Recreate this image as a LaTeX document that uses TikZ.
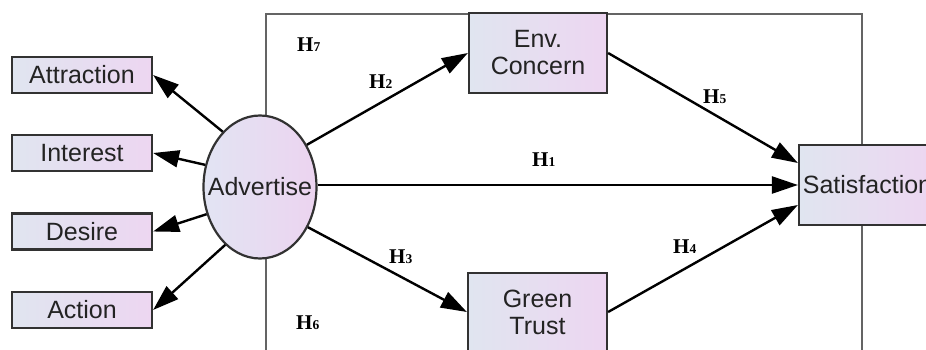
\documentclass[tikz,border=0pt]{standalone}
\usepackage{fontspec}
\setmainfont{Liberation Serif}
\newfontfamily\arialfont{Liberation Sans}
\usetikzlibrary{arrows.meta,shapes.geometric}

\definecolor{boxleft}{RGB}{224,229,240}
\definecolor{boxright}{RGB}{237,214,241}
\definecolor{ellleft}{RGB}{226,228,243}
\definecolor{ellright}{RGB}{236,212,240}
\definecolor{edgegray}{RGB}{50,50,50}
\definecolor{framegray}{RGB}{100,100,100}
\definecolor{txt}{RGB}{35,35,35}

\tikzset{
  varbox/.style={rectangle, draw=edgegray, line width=2.2pt,
    left color=boxleft, right color=boxright, text=txt,
    font=\arialfont\fontsize{25}{27}\selectfont, align=center, inner sep=0pt},
  latent/.style={ellipse, draw=edgegray, line width=2.2pt,
    left color=ellleft, right color=ellright, text=txt,
    font=\arialfont\fontsize{25}{27}\selectfont, inner xsep=-14pt, inner ysep=0pt,
    minimum width=113pt, minimum height=143pt},
  path/.style={draw=black, line width=2.4pt,
    -{Triangle[length=26pt,width=17pt]}},
  hlab/.style={font=\bfseries\fontsize{21}{21}\selectfont, inner sep=0pt, anchor=base west},
}
\newcommand{\hyp}[1]{H{\fontsize{13.5}{13.5}\selectfont #1}}

\begin{document}
\begin{tikzpicture}[x=1pt,y=-1pt]
  \useasboundingbox (0,0) rectangle (926,350);
  \clip (0,0) rectangle (926,350);

  % structural model frame
  \draw[framegray, line width=1.3pt] (266,360) -- (266,14) -- (862,14) -- (862,360);

  % measurement indicators
  \node[varbox, minimum width=140pt, minimum height=36pt] (attr) at (82,75) {Attraction};
  \node[varbox, minimum width=140pt, minimum height=36pt] (intr) at (82,153) {Interest};
  \node[varbox, minimum width=140pt, minimum height=36pt] (desi) at (82,231.5) {Desire};
  \node[varbox, minimum width=140pt, minimum height=36pt] (acti) at (82,310) {Action};

  % constructs
  \node[latent] (adv) at (260,187) {Advertise};
  \node[varbox, minimum width=138pt, minimum height=80pt] (env) at (538,53) {Env.\\Concern};
  \node[varbox, minimum width=139pt, minimum height=78pt] (gt) at (537.5,312) {Green\\Trust};
  \node[varbox, minimum width=137pt, minimum height=80pt] (sat) at (867.5,185) {Satisfaction};

  % loadings
  \draw[path] (adv.124) -- (attr.east);
  \draw[path] (adv.158) -- (intr.east);
  \draw[path] (adv.207) -- (desi.east);
  \draw[path] (adv.239) -- (acti.east);

  % hypothesised paths
  \draw[path] (adv.east |- sat.west) -- (sat.west);
  \draw[path] (adv.42) -- (env.west);
  \draw[path] (adv.-40) -- (gt.west);
  \draw[path] (env.east) -- ([yshift=22pt]sat.west);
  \draw[path] (gt.east) -- ([yshift=-20pt]sat.west);

  % hypothesis labels
  \node[hlab] (h7) at (297,52) {\hyp{7}};
  \node[hlab] (h2) at (369,89) {\hyp{2}};
  \node[hlab] (h5) at (703,104) {\hyp{5}};
  \node[hlab] (h1) at (532,167) {\hyp{1}};
  \node[hlab] (h3) at (389,263) {\hyp{3}};
  \node[hlab] (h4) at (673,253) {\hyp{4}};
  \node[hlab] (h6) at (296,329) {\hyp{6}};
\end{tikzpicture}
\end{document}
